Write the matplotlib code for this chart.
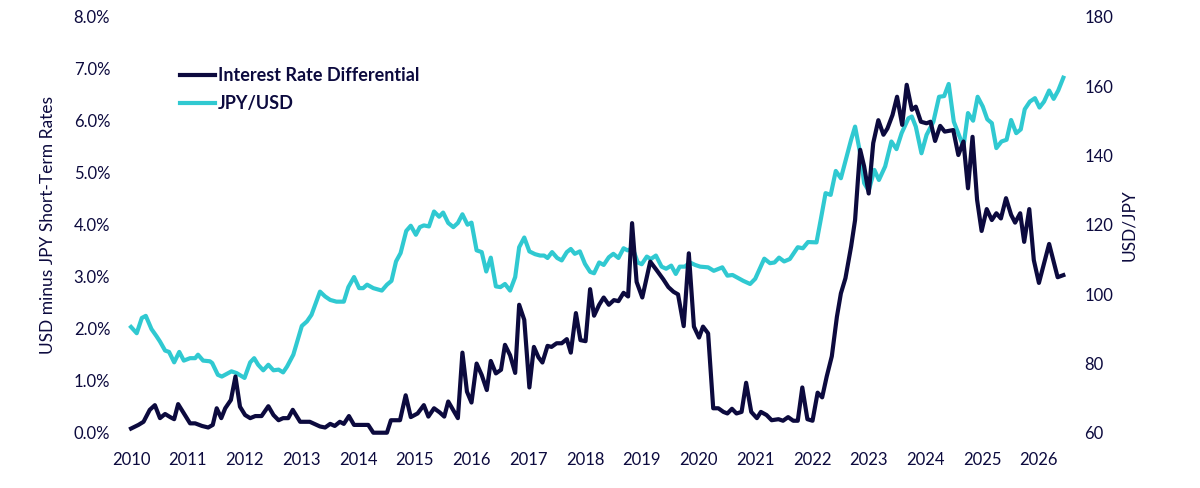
import matplotlib
matplotlib.use("Agg")
import matplotlib.pyplot as plt
from matplotlib.lines import Line2D

# USD minus JPY short-term rate differential (%)
ird_years = [
    2010.00, 2010.13, 2010.22, 2010.33, 2010.42, 2010.51, 2010.60, 2010.69, 2010.76, 2010.83,
    2010.95, 2011.04, 2011.13, 2011.25, 2011.36, 2011.44, 2011.51, 2011.59, 2011.66, 2011.76,
    2011.84, 2011.92, 2012.01, 2012.10, 2012.19, 2012.30, 2012.42, 2012.51, 2012.60, 2012.68,
    2012.77, 2012.85, 2012.98, 2013.15, 2013.33, 2013.42, 2013.51, 2013.59, 2013.68, 2013.75,
    2013.84, 2013.93, 2014.18, 2014.27, 2014.51, 2014.58, 2014.74, 2014.84, 2014.93, 2015.05,
    2015.16, 2015.24, 2015.34, 2015.44, 2015.52, 2015.59, 2015.76, 2015.84, 2015.92, 2016.00,
    2016.09, 2016.18, 2016.27, 2016.34, 2016.43, 2016.52, 2016.59, 2016.68, 2016.77, 2016.84,
    2016.93, 2017.02, 2017.10, 2017.18, 2017.25, 2017.34, 2017.41, 2017.50, 2017.59, 2017.68,
    2017.75, 2017.84, 2017.92, 2018.01, 2018.09, 2018.16, 2018.25, 2018.33, 2018.42, 2018.51,
    2018.59, 2018.68, 2018.76, 2018.83, 2018.91, 2019.01, 2019.15, 2019.26, 2019.38, 2019.47,
    2019.56, 2019.64, 2019.74, 2019.83, 2019.92, 2020.01, 2020.08, 2020.17, 2020.26, 2020.35,
    2020.44, 2020.51, 2020.59, 2020.67, 2020.76, 2020.84, 2020.93, 2021.03, 2021.10, 2021.20,
    2021.29, 2021.41, 2021.49, 2021.58, 2021.67, 2021.75, 2021.83, 2021.92, 2022.01, 2022.10,
    2022.18, 2022.26, 2022.35, 2022.44, 2022.51, 2022.59, 2022.69, 2022.76, 2022.81, 2022.85,
    2022.92, 2023.00, 2023.08, 2023.17, 2023.26, 2023.33, 2023.42, 2023.50, 2023.59, 2023.67,
    2023.76, 2023.83, 2023.92, 2024.02, 2024.09, 2024.17, 2024.26, 2024.34, 2024.49, 2024.58,
    2024.67, 2024.75, 2024.83, 2024.91, 2024.99, 2025.08, 2025.17, 2025.25, 2025.33, 2025.42,
    2025.51, 2025.58, 2025.67, 2025.74, 2025.83, 2025.91, 2026.00, 2026.18, 2026.33, 2026.43,
]
ird_values = [
    0.08, 0.15, 0.21, 0.44, 0.53, 0.28, 0.36, 0.30, 0.26, 0.55,
    0.34, 0.18, 0.18, 0.13, 0.10, 0.15, 0.47, 0.28, 0.47, 0.63,
    1.08, 0.50, 0.34, 0.28, 0.32, 0.32, 0.51, 0.34, 0.24, 0.28,
    0.28, 0.44, 0.21, 0.21, 0.12, 0.10, 0.17, 0.13, 0.21, 0.17,
    0.32, 0.15, 0.15, 0.00, 0.00, 0.24, 0.24, 0.72, 0.30, 0.37,
    0.53, 0.31, 0.47, 0.39, 0.31, 0.60, 0.28, 1.54, 0.79, 0.58,
    1.33, 1.11, 0.82, 1.38, 1.14, 1.21, 1.69, 1.49, 1.15, 2.46,
    2.17, 0.87, 1.65, 1.45, 1.35, 1.67, 1.65, 1.72, 1.72, 1.80,
    1.54, 2.30, 1.78, 1.76, 2.76, 2.25, 2.46, 2.60, 2.46, 2.55,
    2.53, 2.69, 2.62, 4.03, 2.90, 2.60, 3.29, 3.13, 2.95, 2.80,
    2.71, 2.66, 2.05, 3.45, 2.04, 1.83, 2.04, 1.91, 0.47, 0.47,
    0.40, 0.37, 0.46, 0.37, 0.40, 0.96, 0.40, 0.28, 0.40, 0.34,
    0.24, 0.26, 0.23, 0.30, 0.23, 0.23, 0.87, 0.26, 0.23, 0.77,
    0.68, 1.08, 1.47, 2.23, 2.68, 2.97, 3.58, 4.09, 4.86, 5.44,
    5.12, 4.60, 5.57, 6.01, 5.73, 5.85, 6.11, 6.46, 5.92, 6.69,
    6.21, 6.27, 5.98, 5.95, 5.98, 5.61, 5.90, 5.79, 5.82, 5.34,
    5.60, 4.70, 5.69, 4.48, 3.88, 4.30, 4.09, 4.22, 4.12, 4.51,
    4.19, 4.04, 4.22, 3.67, 4.30, 3.32, 2.88, 3.63, 2.99, 3.03,
]

# JPY/USD exchange rate (yen per dollar)
fx_years = [
    2010.00, 2010.10, 2010.19, 2010.26, 2010.36, 2010.45, 2010.51, 2010.60, 2010.67, 2010.76,
    2010.85, 2010.93, 2011.04, 2011.13, 2011.18, 2011.27, 2011.39, 2011.43, 2011.53, 2011.60,
    2011.77, 2011.86, 2012.00, 2012.10, 2012.17, 2012.24, 2012.33, 2012.42, 2012.51, 2012.60,
    2012.68, 2012.75, 2012.86, 2013.01, 2013.10, 2013.18, 2013.33, 2013.42, 2013.51, 2013.62,
    2013.75, 2013.83, 2013.93, 2014.02, 2014.09, 2014.16, 2014.27, 2014.42, 2014.51, 2014.59,
    2014.67, 2014.75, 2014.85, 2014.93, 2015.02, 2015.09, 2015.16, 2015.25, 2015.34, 2015.43,
    2015.50, 2015.59, 2015.68, 2015.76, 2015.84, 2015.93, 2016.00, 2016.09, 2016.18, 2016.26,
    2016.34, 2016.43, 2016.51, 2016.59, 2016.68, 2016.77, 2016.84, 2016.93, 2017.02, 2017.12,
    2017.21, 2017.28, 2017.34, 2017.42, 2017.51, 2017.59, 2017.68, 2017.75, 2017.82, 2017.91,
    2018.00, 2018.09, 2018.16, 2018.25, 2018.33, 2018.42, 2018.50, 2018.59, 2018.68, 2018.75,
    2018.84, 2018.93, 2019.00, 2019.09, 2019.16, 2019.25, 2019.35, 2019.43, 2019.52, 2019.60,
    2019.67, 2019.76, 2019.85, 2019.94, 2020.03, 2020.17, 2020.27, 2020.42, 2020.51, 2020.60,
    2020.70, 2020.79, 2020.91, 2021.00, 2021.05, 2021.16, 2021.26, 2021.34, 2021.42, 2021.51,
    2021.61, 2021.75, 2021.84, 2021.93, 2022.08, 2022.16, 2022.24, 2022.33, 2022.42, 2022.51,
    2022.58, 2022.69, 2022.76, 2022.85, 2022.92, 2023.00, 2023.10, 2023.18, 2023.29, 2023.40,
    2023.49, 2023.58, 2023.70, 2023.76, 2023.83, 2023.93, 2024.02, 2024.14, 2024.24, 2024.33,
    2024.41, 2024.50, 2024.59, 2024.67, 2024.75, 2024.84, 2024.92, 2025.01, 2025.09, 2025.17,
    2025.25, 2025.34, 2025.43, 2025.51, 2025.60, 2025.68, 2025.75, 2025.84, 2025.93, 2026.01,
    2026.09, 2026.18, 2026.26, 2026.34, 2026.43,
]
fx_values = [
    90.5, 88.7, 93.1, 93.7, 89.9, 87.8, 86.3, 83.7, 83.3, 80.3,
    83.3, 80.8, 81.5, 81.5, 82.5, 80.8, 80.6, 80.1, 76.7, 76.2,
    77.7, 77.2, 75.8, 80.3, 81.5, 79.6, 78.0, 79.6, 78.0, 78.2,
    77.4, 79.1, 82.5, 90.8, 92.1, 94.0, 100.7, 99.3, 98.3, 97.8,
    97.8, 102.0, 104.9, 101.7, 101.7, 102.7, 101.7, 101.0, 102.7, 103.8,
    109.4, 111.8, 118.2, 119.7, 117.1, 119.3, 119.8, 119.5, 123.8, 122.3,
    123.5, 120.5, 119.3, 120.5, 123.0, 120.0, 120.6, 112.6, 112.1, 106.5,
    110.5, 102.2, 102.0, 102.9, 101.0, 104.9, 113.5, 116.3, 112.3, 111.5,
    111.1, 111.1, 110.4, 112.1, 110.4, 109.7, 112.1, 113.0, 111.6, 112.3,
    108.7, 106.4, 106.0, 109.1, 108.4, 110.6, 111.6, 110.4, 113.2, 112.6,
    113.2, 109.1, 108.6, 110.8, 110.1, 111.1, 107.9, 107.3, 108.2, 105.8,
    107.9, 107.9, 109.1, 108.4, 107.9, 107.7, 106.7, 107.7, 105.3, 105.5,
    104.6, 103.8, 102.9, 104.4, 106.2, 110.2, 108.9, 109.1, 110.5, 109.4,
    110.1, 113.5, 113.2, 115.0, 114.9, 121.9, 129.1, 128.6, 135.5, 133.4,
    137.7, 144.5, 148.3, 140.6, 132.0, 129.8, 135.8, 132.9, 136.8, 144.0,
    141.8, 146.4, 150.7, 151.2, 148.3, 140.6, 145.9, 149.7, 156.9, 157.1,
    160.6, 149.7, 145.9, 142.5, 152.2, 150.0, 156.9, 154.1, 150.4, 149.3,
    142.1, 144.0, 144.5, 150.2, 146.4, 147.5, 153.3, 155.5, 156.5, 153.8,
    155.5, 158.7, 156.3, 158.7, 162.4,
]

left_ticks = [0, 1, 2, 3, 4, 5, 6, 7, 8]
right_ticks = [60, 80, 100, 120, 140, 160, 180]
year_ticks = list(range(2010, 2027))

navy = '#0c0a3e'
cyan = '#30c9d1'

plt.rcParams['font.family'] = ['Lato', 'DejaVu Sans']

fig = plt.figure(figsize=(12, 4.88), dpi=100)
ax = fig.add_axes([0.1092, 0.1133, 0.7769, 0.8525])
ax2 = ax.twinx()

ax.plot(ird_years, ird_values, color=navy, lw=3, clip_on=False, zorder=3)
ax2.plot(fx_years, fx_values, color=cyan, lw=3, clip_on=False, zorder=2)
ax.set_zorder(2)
ax.patch.set_visible(False)

ax.set_xlim(2010, 2026.43)
ax.set_ylim(0, 8)
ax2.set_ylim(60, 180)

ax.set_xticks(year_ticks)
ax.set_xticklabels([str(y) for y in year_ticks])
ax.set_yticks(left_ticks)
ax.set_yticklabels([f'{v:.1f}%' for v in left_ticks])
ax2.set_yticks(right_ticks)

for a in (ax, ax2):
    for s in a.spines.values():
        s.set_visible(False)
    a.tick_params(length=0, labelsize=12, labelcolor=navy)
ax.tick_params(axis='y', pad=15)
ax.tick_params(axis='x', pad=14)
ax2.tick_params(axis='y', pad=15)

ax.set_ylabel('USD minus JPY Short-Term Rates', fontsize=12.5, color=navy)
ax.yaxis.set_label_coords(-0.0805, 0.5)
ax2.set_ylabel('USD/JPY', fontsize=12.5, color=navy)
ax2.yaxis.set_label_coords(1.062, 0.5)

handles = [Line2D([], [], color=navy, lw=3), Line2D([], [], color=cyan, lw=3)]
leg = ax.legend(handles, ['Interest Rate Differential', 'JPY/USD'],
                loc='upper left', bbox_to_anchor=(0.0526, 0.879), frameon=False,
                borderpad=0, borderaxespad=0, handlelength=1.95, handletextpad=0.15,
                labelspacing=0.62, prop={'weight': 'bold', 'size': 13})
for t in leg.get_texts():
    t.set_color(navy)

fig.savefig('out.png', dpi=100)
